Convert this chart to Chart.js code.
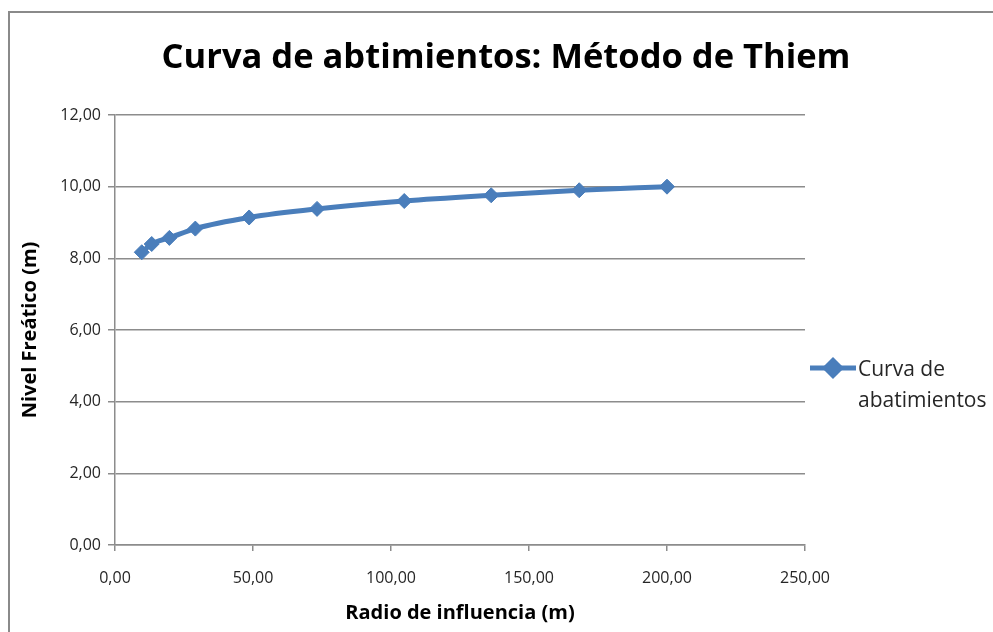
<!DOCTYPE html>
<html>
<head>
<meta charset="utf-8">
<script src="https://cdn.jsdelivr.net/npm/chart.js@4.4.1/dist/chart.umd.min.js"></script>
<style>
  html, body { margin: 0; padding: 0; background: #fff; }
  #wrap { width: 993px; height: 632px; position: relative; }
</style>
</head>
<body>
<div id="wrap"><canvas id="c" width="993" height="632"></canvas></div>
<script>
// Radio de influencia (m) y nivel freático (m) según Thiem
const radio = [9.7, 13.3, 19.7, 29.1, 48.6, 73.2, 104.8, 136.3, 168.2, 200.0];
const nivel = [8.17, 8.40, 8.57, 8.83, 9.14, 9.38, 9.60, 9.76, 9.90, 10.00];
const xTicks = [0, 50, 100, 150, 200, 250];
const yTicks = [0, 2, 4, 6, 8, 10, 12];
const serieNombre = ['Curva de', 'abatimientos'];
const titulo = 'Curva de abtimientos: Método de Thiem';

const azul = '#4a7ebb';
const gris = '#8c8c8c';
const texto = '#262626';
const fuente = "'Open Sans', 'Noto Sans', sans-serif";

const coma = v => v.toFixed(2).replace('.', ',');

// Marco exterior del gráfico y título centrado sobre todo el lienzo
const marco = {
  id: 'marco',
  beforeDraw(chart) {
    const ctx = chart.ctx;
    ctx.save();
    ctx.fillStyle = '#fff';
    ctx.fillRect(0, 0, chart.width, chart.height);
    ctx.strokeStyle = '#8a8a8a';
    ctx.lineWidth = 2;
    ctx.beginPath();
    ctx.moveTo(9, chart.height + 5);
    ctx.lineTo(9, 12);
    ctx.lineTo(chart.width + 5, 12);
    ctx.stroke();
    ctx.fillStyle = '#000';
    ctx.font = "bold 34.5px " + fuente;
    ctx.textAlign = 'center';
    ctx.textBaseline = 'alphabetic';
    ctx.fillText(titulo, 506, 68);
    ctx.restore();
  }
};

// Leyenda a la derecha, con el nombre en dos líneas
const leyenda = {
  id: 'leyenda',
  afterDraw(chart) {
    const ctx = chart.ctx;
    const ds = chart.data.datasets[0];
    const x0 = chart.chartArea.right + 5, y0 = 368;
    ctx.save();
    ctx.strokeStyle = ds.borderColor;
    ctx.lineWidth = ds.borderWidth;
    ctx.beginPath();
    ctx.moveTo(x0, y0);
    ctx.lineTo(x0 + 46, y0);
    ctx.stroke();
    Chart.helpers.drawPoint(ctx, {
      pointStyle: 'rectRot', radius: ds.pointRadius, borderWidth: 1
    }, x0 + 23, y0);
    ctx.fillStyle = ds.backgroundColor;
    ctx.fill();
    ctx.fillStyle = texto;
    ctx.font = "21px " + fuente;
    ctx.textBaseline = 'middle';
    ctx.textAlign = 'left';
    serieNombre.forEach((t, i) => ctx.fillText(t, x0 + 48, y0 + 2 + i * 31));
    ctx.restore();
  }
};

new Chart(document.getElementById('c'), {
  type: 'line',
  data: {
    datasets: [{
      label: serieNombre.join(' '),
      data: radio.map((r, i) => ({ x: r, y: nivel[i] })),
      borderColor: azul,
      backgroundColor: azul,
      borderWidth: 5,
      pointStyle: 'rectRot',
      pointRadius: 7.5,
      pointBorderWidth: 1,
      pointBorderColor: azul,
      pointBackgroundColor: azul,
      cubicInterpolationMode: 'monotone',
      fill: false
    }]
  },
  options: {
    responsive: false,
    animation: false,
    layout: { padding: { left: 18, right: 188, top: 115, bottom: 0 } },
    plugins: {
      legend: { display: false },
      tooltip: { enabled: false },
      title: { display: false }
    },
    scales: {
      x: {
        type: 'linear',
        min: 0, max: 250,
        afterBuildTicks: s => { s.ticks = xTicks.map(v => ({ value: v })); },
        afterFit: s => { s.height = 87; },
        ticks: {
          color: texto,
          font: { family: fuente, size: 16 },
          padding: 18,
          callback: v => coma(v),
          maxRotation: 0
        },
        grid: { drawOnChartArea: false, drawTicks: true, tickLength: 6, color: gris, lineWidth: 1.5 },
        border: { display: true, color: gris, width: 1.5 },
        title: {
          display: true,
          text: 'Radio de influencia (m)',
          color: '#000',
          font: { family: fuente, size: 20, weight: 'bold' },
          padding: { top: 0, bottom: 7 }
        }
      },
      y: {
        min: 0, max: 12,
        afterBuildTicks: s => { s.ticks = yTicks.map(v => ({ value: v })); },
        afterFit: s => { s.width = 97; },
        ticks: {
          color: texto,
          font: { family: fuente, size: 16 },
          padding: 7,
          callback: v => coma(v)
        },
        grid: { drawOnChartArea: true, drawTicks: true, tickLength: 7, color: gris, lineWidth: 1.5 },
        border: { display: true, color: gris, width: 1.5 },
        title: {
          display: true,
          text: 'Nivel Freático (m)',
          color: '#000',
          font: { family: fuente, size: 20, weight: 'bold' },
          padding: { top: 0, bottom: 0 }
        }
      }
    }
  },
  plugins: [marco, leyenda]
});
</script>
</body>
</html>
